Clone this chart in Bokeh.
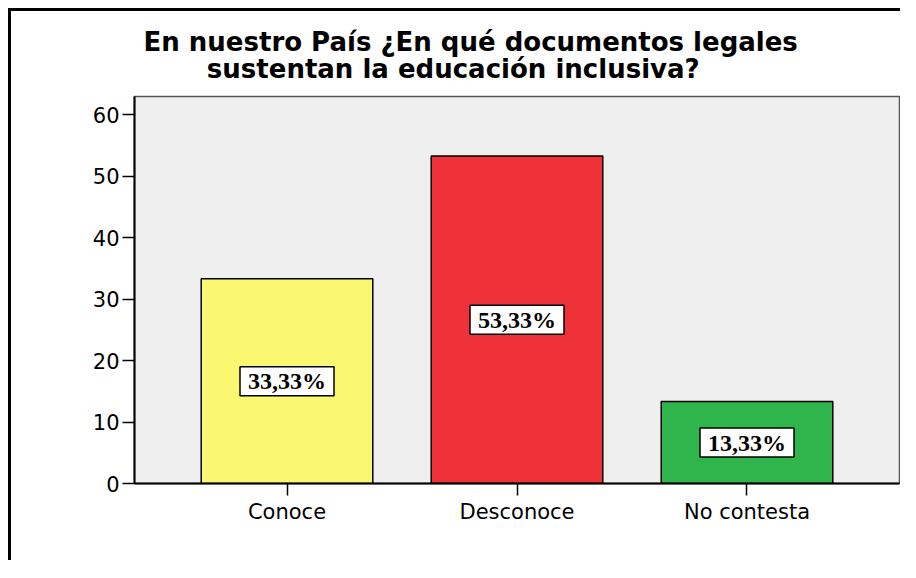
from bokeh.plotting import figure
from bokeh.models import FactorRange, Range1d, FixedTicker, ColumnDataSource
from bokeh.core.properties import value
from bokeh.embed import file_html
from bokeh.resources import INLINE

# ---- data ----
categories = ["Conoce", "Desconoce", "No contesta"]
percentages = [33.33, 53.33, 13.33]
bar_labels = ["33,33%", "53,33%", "13,33%"]
y_ticks = [0, 10, 20, 30, 40, 50, 60]
title_lines = ["En nuestro País ¿En qué documentos legales",
               "sustentan la educación inclusiva?"]

# ---- styles ----
bar_colors = ["#FAF771", "#EF323A", "#2FB54B"]

source = ColumnDataSource(data=dict(
    cat=categories,
    val=percentages,
    half=[v / 2 for v in percentages],
    lab=bar_labels,
    color=bar_colors,
))

p = figure(
    x_range=FactorRange(factors=categories, range_padding=0.1087, range_padding_units="percent"),
    y_range=Range1d(0, 63),
    width=900, height=560,
    output_backend="svg", toolbar_location=None,
    min_border_left=134, min_border_right=1, min_border_top=96, min_border_bottom=77,
    background_fill_color="#EFEFEF", border_fill_color=None,
)
# outer frame of the chart: black left and top edges drawn behind the transparent canvas border
p.styles = {
    "background": ("linear-gradient(#000, #000) 8px 8px / 3px 100% no-repeat, "
                   "linear-gradient(#000, #000) 8px 8px / 100% 3px no-repeat, #ffffff"),
}

p.outline_line_color = "#555555"
p.outline_line_width = 1.5

# two-line title; the second line is indented with no-break spaces so it sits centred
p.title.text = title_lines[0] + "\n" + "\u00a0" * 7 + title_lines[1]
p.title.align = "left"
p.title.offset = 9
p.title.standoff = 26
p.title.text_line_height = 0.9
p.title.text_font = "DejaVu Sans"
p.title.text_font_style = "bold"
p.title.text_font_size = "26px"
p.title.text_color = "black"

p.vbar(x="cat", top="val", width=0.746, bottom=0, source=source,
       fill_color="color", line_color="black", line_width=1.5)

p.rect(x="cat", y="half", width=94, height=29, width_units="screen", height_units="screen",
       source=source, fill_color="white", line_color="black", line_width=1.5)
p.text(x="cat", y="half", text="lab", source=source,
       text_align="center", text_baseline="middle",
       text_font=value("Liberation Serif"), text_font_style="bold",
       text_font_size="24px", text_color="black")

p.xgrid.grid_line_color = None
p.ygrid.grid_line_color = None

for ax in (p.xaxis[0], p.yaxis[0]):
    ax.axis_line_color = "black"
    ax.axis_line_width = 2
    ax.major_tick_line_color = "black"
    ax.major_tick_line_width = 1.5
    ax.major_tick_in = 0
    ax.minor_tick_line_color = None
    ax.major_label_text_font = "DejaVu Sans"
    ax.major_label_text_font_size = "21px"
    ax.major_label_text_color = "black"

p.yaxis[0].ticker = FixedTicker(ticks=y_ticks)
p.yaxis[0].major_tick_out = 12
p.yaxis[0].major_label_standoff = 3
p.xaxis[0].major_tick_out = 12
p.xaxis[0].major_label_standoff = 4

open("out.html", "w").write(file_html(p, INLINE))
